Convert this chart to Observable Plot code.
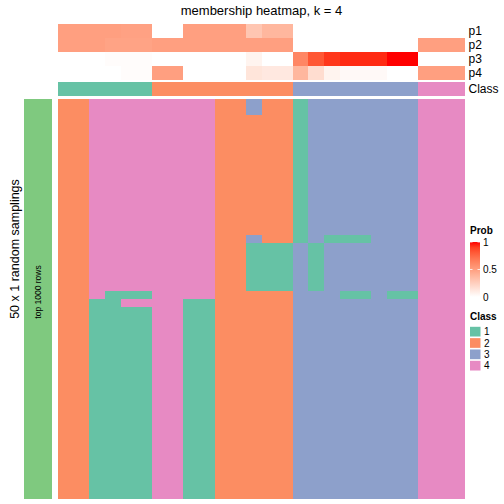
<!DOCTYPE html>
<html><head><meta charset="utf-8">
<script src="https://cdn.jsdelivr.net/npm/d3@7"></script>
<script src="https://cdn.jsdelivr.net/npm/@observablehq/plot@0.6"></script>
<style>
html,body{margin:0;padding:0;background:#fff;}
#wrap{position:relative;width:504px;height:504px;overflow:hidden;font-family:"Liberation Sans",Arial,sans-serif;background:#fff;}
#wrap > svg{position:absolute;margin:0;overflow:visible;}
</style></head><body><div id="wrap"></div>
<script>
// ---------------- data ----------------
const title = "membership heatmap, k = 4";
const rowTitle = "50 x 1 random samplings";
const groupLabel = "top 1000 rows";
const probNames = ["p1", "p2", "p3", "p4"];
const p1 = [0.5, 0.5, 0.5, 0.5, 0.49, 0.49, 0, 0, 0.5, 0.5, 0.5, 0.5, 0.3, 0.38, 0.38, 0, 0, 0, 0, 0, 0, 0, 0, 0, 0, 0];
const p2 = [0.5, 0.5, 0.5, 0.48, 0.48, 0.48, 0.5, 0.5, 0.5, 0.5, 0.5, 0.5, 0.5, 0.5, 0.5, 0, 0, 0, 0, 0, 0, 0, 0, 0.5, 0.5, 0.5];
const p3 = [0, 0, 0, 0.015, 0.015, 0.015, 0, 0, 0, 0, 0, 0, 0.06, 0, 0, 0.62, 0.82, 0.92, 0.95, 0.95, 0.95, 1, 1, 0, 0, 0];
const p4 = [0, 0, 0, 0, 0.015, 0.015, 0.5, 0.5, 0, 0, 0, 0, 0.14, 0.12, 0.12, 0.38, 0.18, 0.06, 0.03, 0.03, 0.03, 0, 0, 0.5, 0.5, 0.5];
const classRow = [1, 1, 1, 1, 1, 1, 2, 2, 2, 2, 2, 2, 2, 2, 2, 3, 3, 3, 3, 3, 3, 3, 3, 4, 4, 4];
const classLabels = ["1", "2", "3", "4"];
const classColors = ["#66C2A5", "#FC8D62", "#8DA0CB", "#E78AC3"];
const groupColor = "#7FC97F";
const probTicks = [0, 0.5, 1];
// class of each sample (column) in each of the 50 samplings (rows)
const samplings = [
  "22444444442232213333333444",
  "22444444442232213333333444",
  "22444444442222213333333444",
  "22444444442222213333333444",
  "22444444442222213333333444",
  "22444444442222213333333444",
  "22444444442222213333333444",
  "22444444442222213333333444",
  "22444444442222213333333444",
  "22444444442222213333333444",
  "22444444442222213333333444",
  "22444444442222213333333444",
  "22444444442222213333333444",
  "22444444442222213333333444",
  "22444444442222213333333444",
  "22444444442222213333333444",
  "22444444442222213333333444",
  "22444444442232213111333444",
  "22444444442211131333333444",
  "22444444442211131333333444",
  "22444444442211131333333444",
  "22444444442211131333333444",
  "22444444442211131333333444",
  "22444444442211131333333444",
  "22411144442222233311311444",
  "22114444112222233333333444",
  "22111144112222233333333444",
  "22111144112222233333333444",
  "22111144112222233333333444",
  "22111144112222233333333444",
  "22111144112222233333333444",
  "22111144112222233333333444",
  "22111144112222233333333444",
  "22111144112222233333333444",
  "22111144112222233333333444",
  "22111144112222233333333444",
  "22111144112222233333333444",
  "22111144112222233333333444",
  "22111144112222233333333444",
  "22111144112222233333333444",
  "22111144112222233333333444",
  "22111144112222233333333444",
  "22111144112222233333333444",
  "22111144112222233333333444",
  "22111144112222233333333444",
  "22111144112222233333333444",
  "22111144112222233333333444",
  "22111144112222233333333444",
  "22111144112222233333333444",
  "22111144112222233333333444"
];

// ---------------- build ----------------
const FONT = '"Liberation Sans", Arial, Helvetica, sans-serif';
const wrap = document.getElementById("wrap");
function place(el, left, top) {
  el.style.left = left + "px";
  el.style.top = top + "px";
  wrap.appendChild(el);
}
const cols = d3.range(classRow.length);
const probSeries = [p1, p2, p3, p4];
const probData = probNames.flatMap((name, i) => cols.map(c => ({col: c, name, value: probSeries[i][c]})));
const classData = cols.map(c => ({col: c, name: "Class", cls: classRow[c]}));
const cellData = samplings.flatMap((s, r) => cols.map(c => ({col: c, row: r, cls: +s[c]})));

const probColor = {type: "linear", domain: [0, 1], range: ["white", "red"], interpolate: d3.interpolateLab};
const classColor = {type: "ordinal", domain: [1, 2, 3, 4], range: classColors};
const style = {fontFamily: FONT, fontSize: "12px", background: "transparent", color: "#000", shapeRendering: "crispEdges"};
const xCols = {domain: cols, padding: 0, round: false, axis: null};

// probability annotation rows
place(Plot.plot({
  width: 446, height: 56, marginTop: 0, marginBottom: 0, marginLeft: 0, marginRight: 39,
  style,
  x: xCols,
  y: {domain: probNames, padding: 0, round: false, axis: null},
  color: probColor,
  marks: [
    Plot.cell(probData, {x: "col", y: "name", fill: "value", inset: 0}),
    Plot.axisY({anchor: "right", tickSize: 0, tickPadding: 3, fontSize: 12, label: null})
  ]
}), 58, 24);

// class annotation row
place(Plot.plot({
  width: 446, height: 14, marginTop: 0, marginBottom: 0, marginLeft: 0, marginRight: 39,
  style,
  x: xCols,
  y: {domain: ["Class"], padding: 0, round: false, axis: null},
  color: classColor,
  marks: [
    Plot.cell(classData, {x: "col", y: "name", fill: "cls", inset: 0}),
    Plot.axisY({anchor: "right", tickSize: 0, tickPadding: 3, fontSize: 12, label: null})
  ]
}), 58, 82);

// main heatmap
place(Plot.plot({
  width: 407, height: 400, margin: 0,
  style,
  x: xCols,
  y: {domain: d3.range(samplings.length), padding: 0, round: false, axis: null},
  color: classColor,
  marks: [
    Plot.cell(cellData, {x: "col", y: "row", fill: "cls", inset: 0})
  ]
}), 58, 99);

// left group bar
place(Plot.plot({
  width: 28, height: 400, margin: 0,
  style,
  x: {domain: [groupLabel], padding: 0, round: false, axis: null},
  y: {domain: [groupLabel], padding: 0, round: false, axis: null},
  marks: [
    Plot.cell([groupLabel], {x: d => d, y: d => d, fill: groupColor, inset: 0})
  ]
}), 24, 99);

// overlay: titles and legends
const svg = d3.create("svg").attr("width", 504).attr("height", 504)
  .style("font-family", FONT).style("pointer-events", "none");
svg.append("text").attr("x", 261.5).attr("y", 15).attr("text-anchor", "middle")
  .attr("font-size", 13).text(title);
svg.append("text").attr("transform", "translate(18.5,249) rotate(-90)").attr("text-anchor", "middle")
  .attr("font-size", 12.5).text(rowTitle);
svg.append("text").attr("transform", "translate(40.8,292) rotate(-90)").attr("text-anchor", "middle")
  .attr("font-size", 8.5).text(groupLabel);

// Prob legend
const ly = d3.scaleLinear().domain([0, 1]).range([297, 242]);
const grad = svg.append("defs").append("linearGradient").attr("id", "pg")
  .attr("x1", 0).attr("y1", 1).attr("x2", 0).attr("y2", 0);
d3.range(0, 1.0001, 0.1).forEach(t => grad.append("stop").attr("offset", t)
  .attr("stop-color", d3.interpolateLab("white", "red")(t)));
svg.append("text").attr("x", 470).attr("y", 234).attr("font-size", 10).attr("font-weight", "bold").text("Prob");
svg.append("rect").attr("x", 470).attr("y", ly(1)).attr("width", 10).attr("height", ly(0) - ly(1)).attr("fill", "url(#pg)");
probTicks.forEach(t => {
  svg.append("line").attr("x1", 470).attr("x2", 472.5).attr("y1", ly(t)).attr("y2", ly(t)).attr("stroke", "white").attr("stroke-width", 0.8);
  svg.append("line").attr("x1", 477.5).attr("x2", 480).attr("y1", ly(t)).attr("y2", ly(t)).attr("stroke", "white").attr("stroke-width", 0.8);
  svg.append("text").attr("x", 483).attr("y", ly(t)).attr("dy", "0.35em").attr("font-size", 10).text(String(t));
});

// Class legend
svg.append("text").attr("x", 470).attr("y", 320).attr("font-size", 10).attr("font-weight", "bold").text("Class");
classLabels.forEach((lab, i) => {
  const y0 = 326 + i * 11.34;
  svg.append("rect").attr("x", 470).attr("y", y0 + 0.8).attr("width", 10.5).attr("height", 9.7).attr("fill", classColors[i]);
  svg.append("text").attr("x", 484).attr("y", y0 + 5.7).attr("dy", "0.35em").attr("font-size", 10).text(lab);
});
place(svg.node(), 0, 0);
</script></body></html>
